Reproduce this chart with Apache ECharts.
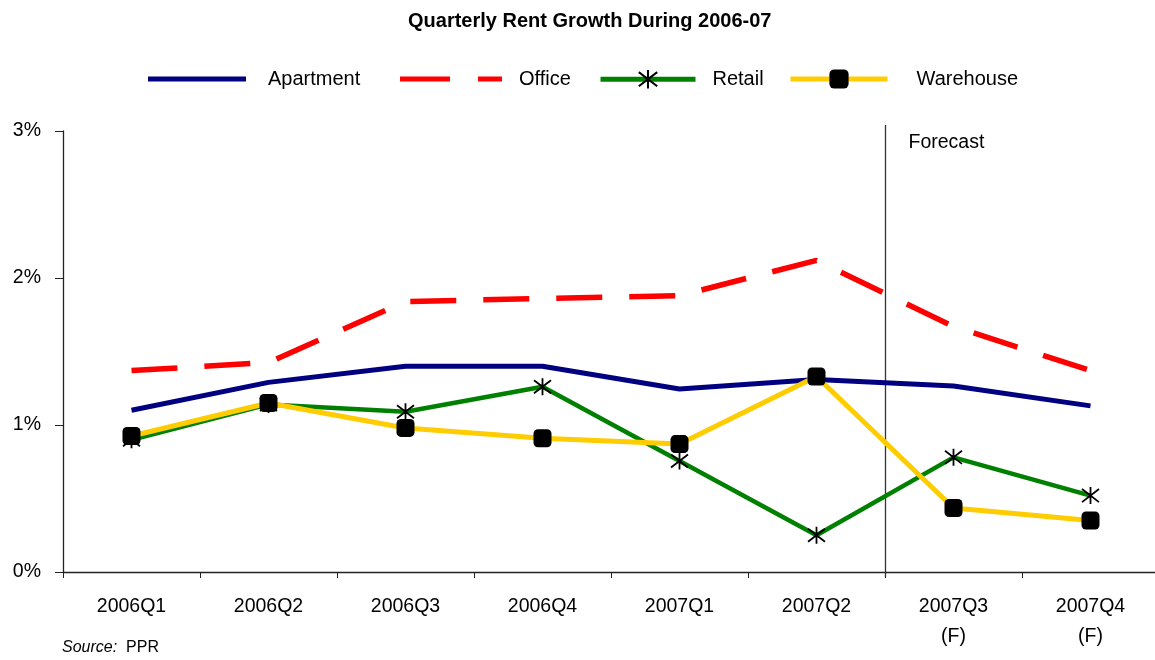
<!DOCTYPE html>
<html><head><meta charset="utf-8">
<script src="https://cdn.jsdelivr.net/npm/echarts@6/dist/echarts.min.js"></script>
<style>html,body{margin:0;padding:0;background:#fff;overflow:hidden;width:1155px;height:660px}#c{width:1159px;height:660px}</style>
</head><body><div id="c"></div>
<script>
const categories = ['2006Q1','2006Q2','2006Q3','2006Q4','2007Q1','2007Q2','2007Q3\n(F)','2007Q4\n(F)'];
const apartment = [1.10, 1.29, 1.40, 1.40, 1.245, 1.31, 1.265, 1.13];
const office    = [1.37, 1.425, 1.84, 1.86, 1.88, 2.12, 1.67, 1.37];
const retail    = [0.90, 1.14, 1.09, 1.26, 0.755, 0.25, 0.78, 0.52];
const warehouse = [0.925, 1.15, 0.98, 0.91, 0.87, 1.33, 0.435, 0.35];
const yTicks = [0, 1, 2, 3];
const forecastStartIndex = 6;

const FONT = 'Liberation Sans, Arial, sans-serif';
const chart = echarts.init(document.getElementById('c'), null, {renderer:'canvas'});
const asterisk = 'path://M0,0L10,10M10,0L0,10M5,-1.5L5,11.5';
const txt = (pad) => ({fontFamily:FONT, fontSize:20, color:'#000', padding:[0,0,0,pad]});
const legendBase = {itemWidth: 98, selectedMode:false, lineStyle:{width:5}, top:64};
chart.setOption({
  animation:false,
  title:{text:'Quarterly Rent Growth During 2006-07', left:403, top:6,
    textStyle:{fontFamily:FONT, fontSize:20, fontWeight:'bold', color:'#000'}},
  legend:[
    Object.assign({}, legendBase, {data:[{name:'Apartment', icon:'rect'}], left:143, itemHeight:5, textStyle:txt(17)}),
    Object.assign({}, legendBase, {data:[{name:'Office', icon:'path://M0,0H50V5H0Z M78,0H102V5H78Z'}], left:395, itemHeight:5, itemWidth:102, textStyle:txt(12)}),
    Object.assign({}, legendBase, {data:['Retail'], left:593, top:64, itemHeight:23, itemWidth:95, textStyle:txt(12)}),
    Object.assign({}, legendBase, {data:['Warehouse'], left:783, top:64, itemHeight:24, itemWidth:97, textStyle:txt(24)})
  ],
  grid:{left:63, top:131, right:0, bottom:88, containLabel:false},
  xAxis:{type:'category', data:categories, boundaryGap:true,
    axisLine:{lineStyle:{color:'#222', width:1.3}},
    axisTick:{show:true, length:6, lineStyle:{color:'#222'}},
    axisLabel:{fontFamily:FONT, fontSize:19.5, color:'#000', margin:20, lineHeight:30}},
  yAxis:{type:'value', min:0, max:3, interval:1,
    axisLine:{show:true, lineStyle:{color:'#222', width:1.3}},
    axisTick:{show:true, length:8, lineStyle:{color:'#222'}},
    splitLine:{show:false},
    axisLabel:{fontFamily:FONT, fontSize:19.5, color:'#000', margin:22, formatter:v=>yTicks.includes(v)? v+'%':''}},
  series:[
    {name:'Apartment', type:'line', data:apartment, symbol:'none', lineStyle:{color:'#000080', width:5}, itemStyle:{color:'#000080'}, z:2},
    {name:'Office', type:'line', data:office, symbol:'none', lineStyle:{color:'#ff0000', width:5.5, type:[46,27]}, itemStyle:{color:'#ff0000'}, z:2},
    {name:'Retail', type:'line', data:retail, symbol:asterisk, symbolSize:17, showAllSymbol:true,
      lineStyle:{color:'#008000', width:4.5}, itemStyle:{color:'rgba(0,0,0,0)', borderColor:'#000', borderWidth:1.8}, z:3},
    {name:'Warehouse', type:'line', data:warehouse, symbol:'roundRect', symbolSize:18, showAllSymbol:true,
      lineStyle:{color:'#ffcc00', width:5}, itemStyle:{color:'#000', borderColor:'#000', borderWidth:0}, z:4}
  ]
});
const p5 = chart.convertToPixel({xAxisIndex:0, yAxisIndex:0}, [forecastStartIndex-1, 3]);
const p6 = chart.convertToPixel({xAxisIndex:0, yAxisIndex:0}, [forecastStartIndex, 0]);
const fx = Math.round((p5[0]+p6[0])/2) + 0.5;
chart.setOption({graphic:[
  {type:'line', shape:{x1:fx, y1:p5[1]-6, x2:fx, y2:p6[1]+5}, style:{stroke:'#333', lineWidth:1.3}, z:1},
  {type:'text', left:fx+23, top:p5[1]+2, style:{text:'Forecast', font:'19.5px '+FONT, fill:'#000'}},
  {type:'text', left:62, top:640, style:{rich:{i:{fontStyle:'italic', fontFamily:FONT, fontSize:16, fill:'#000'}, n:{fontFamily:FONT, fontSize:16, fill:'#000'}}, text:'{i|Source:}{n|  PPR}'}}
]});
</script></body></html>
